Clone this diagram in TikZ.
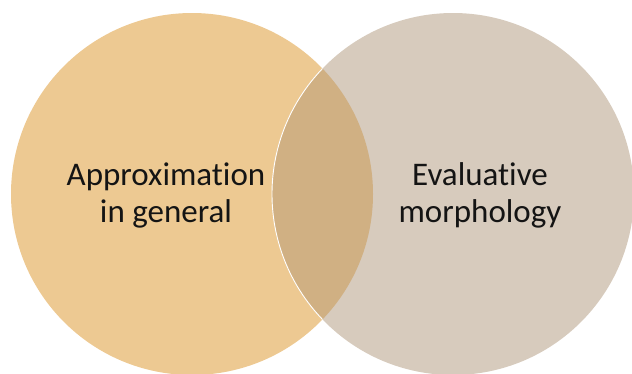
\documentclass[tikz,border=0pt]{standalone}
\usepackage{fontspec}
\setmainfont{Carlito}[Ligatures={NoCommon}]
\definecolor{leftfill}{RGB}{237,201,146}
\definecolor{rightfill}{RGB}{215,203,189}
\definecolor{midfill}{RGB}{208,176,131}
\definecolor{txt}{RGB}{20,20,20}
\begin{document}
\begin{tikzpicture}[x=1pt,y=-1pt,
  lbl/.style={font=\fontsize{33}{37}\selectfont, text=txt, align=center, inner sep=0pt}]
\useasboundingbox (0,0) rectangle (632,373);
\begin{scope}
\clip (0,0) rectangle (632,373);
\fill[leftfill] (192,194) circle (181);
\fill[rightfill] (453,194) circle (181);
\begin{scope}
\clip (192,194) circle (181);
\fill[midfill] (453,194) circle (181);
\end{scope}
\begin{scope}
\clip (192,194) circle (181);
\draw[white, line width=0.9pt] (453,194) circle (181);
\end{scope}
\end{scope}
\node[lbl, anchor=base] (a) at (166,222) {Approximation\\in general};
\node[lbl, anchor=base] (b) at (480,222) {Evaluative\\morphology};
\end{tikzpicture}
\end{document}
